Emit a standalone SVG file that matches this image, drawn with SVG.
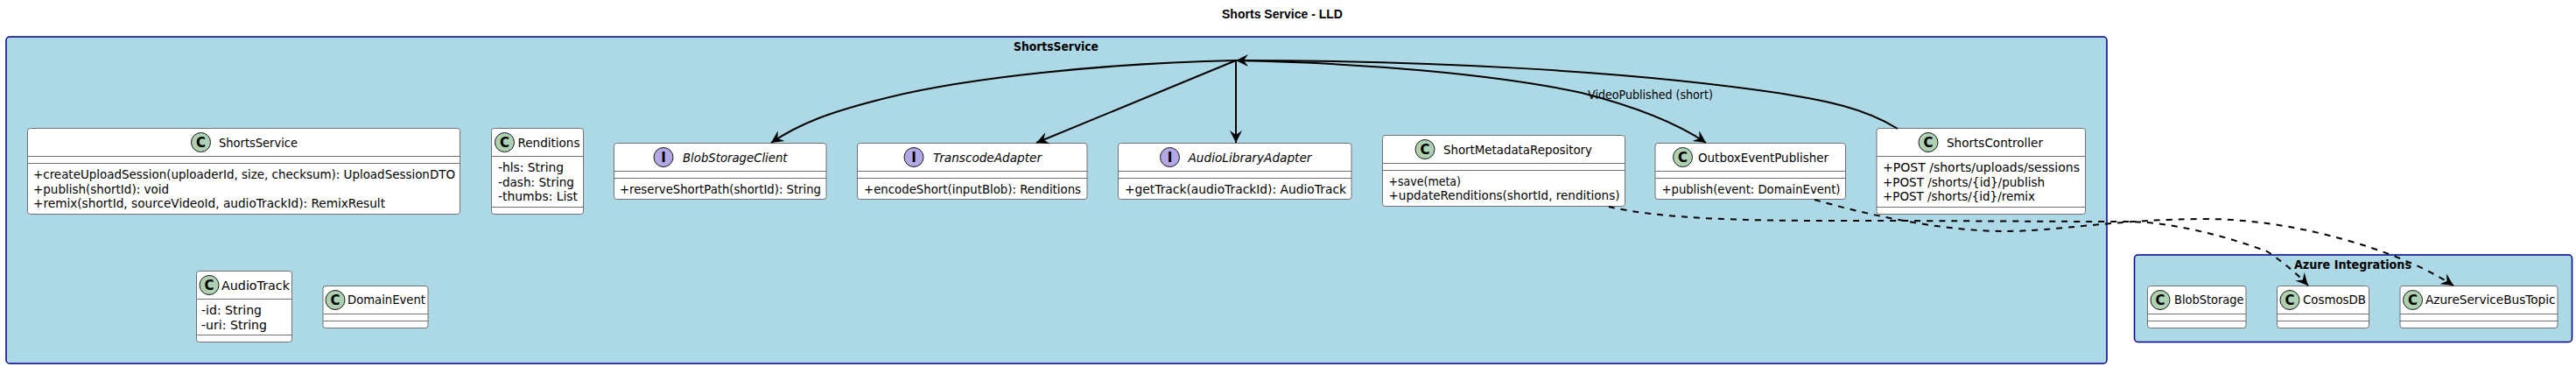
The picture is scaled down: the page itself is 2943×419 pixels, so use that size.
<svg xmlns="http://www.w3.org/2000/svg" width="2943" height="419" viewBox="0 0 2943 419">
<style>
text{font-family:"DejaVu Sans",sans-serif;font-size:14px;fill:#000}
.title{font-family:"Liberation Sans",Arial,sans-serif;font-size:14px;font-weight:bold}
.ct{font-weight:bold}
.it{font-style:italic}
.cluster{fill:#ADD8E6;stroke:#00008B;stroke-width:1.5}
.box{fill:#fff;stroke:#707070;stroke-width:1}
.sep{stroke:#707070;stroke-width:1;fill:none}
.cc{fill:#ADD1B2;stroke:#181818;stroke-width:1}
.ci{fill:#B4A7E5;stroke:#181818;stroke-width:1}
.g{font-weight:bold;font-size:15px;text-anchor:middle}
.link{fill:none;stroke:#000;stroke-width:2;marker-end:url(#arrow)}
.dash{stroke-dasharray:7,7}
</style>
<defs>
<marker id="arrow" markerUnits="userSpaceOnUse" markerWidth="16" markerHeight="16" refX="14" refY="8" orient="auto" overflow="visible">
<path d="M14,8 L0,1 L5,8 L0,15 Z" fill="#000"/>
</marker>
</defs>
<rect width="2943" height="419" fill="#fff"/>
<text class="title" x="1396" y="21" textLength="138" lengthAdjust="spacingAndGlyphs">Shorts Service - LLD</text>
<g id="cluster-shortsservice">
<rect class="cluster" x="7" y="42" width="2400" height="373" rx="4"/>
<text class="ct" x="1158" y="58" textLength="97" lengthAdjust="spacingAndGlyphs">ShortsService</text>
</g>
<g id="cluster-azure">
<rect class="cluster" x="2438.5" y="291" width="500" height="99.5" rx="4"/>
<text class="ct" x="2621" y="307" textLength="134" lengthAdjust="spacingAndGlyphs">Azure Integrations</text>
</g>
<g id="ShortsService">
<rect class="box" x="31.5" y="146.5" width="494" height="98" rx="3"/>
<path class="sep" d="M31.5,178.5H525.5M31.5,186.5H525.5"/>
<circle class="cc" cx="229.5" cy="162.5" r="11"/><text class="g" x="229.5" y="168">C</text>
<text x="250" y="168" textLength="90" lengthAdjust="spacingAndGlyphs">ShortsService</text>
<text x="38" y="204" textLength="482" lengthAdjust="spacingAndGlyphs">+createUploadSession(uploaderId, size, checksum): UploadSessionDTO</text>
<text x="38" y="221" textLength="155" lengthAdjust="spacingAndGlyphs">+publish(shortId): void</text>
<text x="38" y="237" textLength="402" lengthAdjust="spacingAndGlyphs">+remix(shortId, sourceVideoId, audioTrackId): RemixResult</text>
</g>
<g id="Renditions">
<rect class="box" x="561.5" y="146.5" width="105" height="98" rx="3"/>
<path class="sep" d="M561.5,178.5H666.5M561.5,236.5H666.5"/>
<circle class="cc" cx="576.5" cy="162.5" r="11"/><text class="g" x="576.5" y="168">C</text>
<text x="591.5" y="168" textLength="71" lengthAdjust="spacingAndGlyphs">Renditions</text>
<text x="569" y="196" textLength="75" lengthAdjust="spacingAndGlyphs">-hls: String</text>
<text x="569" y="213" textLength="87" lengthAdjust="spacingAndGlyphs">-dash: String</text>
<text x="569" y="229" textLength="91" lengthAdjust="spacingAndGlyphs">-thumbs: List</text>
</g>
<g id="AudioTrack">
<rect class="box" x="224.5" y="309.5" width="109" height="81" rx="3"/>
<path class="sep" d="M224.5,341.5H333.5M224.5,382.5H333.5"/>
<circle class="cc" cx="239" cy="325.5" r="11"/><text class="g" x="239" y="331">C</text>
<text x="253" y="331" textLength="78" lengthAdjust="spacingAndGlyphs">AudioTrack</text>
<text x="230" y="359" textLength="69" lengthAdjust="spacingAndGlyphs">-id: String</text>
<text x="230" y="376" textLength="75" lengthAdjust="spacingAndGlyphs">-uri: String</text>
</g>
<g id="DomainEvent">
<rect class="box" x="369" y="326.5" width="120" height="48" rx="3"/>
<path class="sep" d="M369,358.5H489M369,366.5H489"/>
<circle class="cc" cx="383" cy="342.5" r="11"/><text class="g" x="383" y="348">C</text>
<text x="397" y="347" textLength="89" lengthAdjust="spacingAndGlyphs">DomainEvent</text>
</g>
<g id="BlobStorageClient">
<rect class="box" x="701.5" y="163.5" width="242.5" height="64" rx="3"/>
<path class="sep" d="M701.5,195.5H944M701.5,203.5H944"/>
<circle class="ci" cx="758" cy="179.5" r="11"/><text class="g" x="758" y="185">I</text>
<text class="it" x="780" y="185" textLength="119.5" lengthAdjust="spacingAndGlyphs">BlobStorageClient</text>
<text x="708" y="221" textLength="230" lengthAdjust="spacingAndGlyphs">+reserveShortPath(shortId): String</text>
</g>
<g id="TranscodeAdapter">
<rect class="box" x="979.5" y="163.5" width="262.5" height="64" rx="3"/>
<path class="sep" d="M979.5,195.5H1242M979.5,203.5H1242"/>
<circle class="ci" cx="1044" cy="179.5" r="11"/><text class="g" x="1044" y="185">I</text>
<text class="it" x="1066" y="185" textLength="124" lengthAdjust="spacingAndGlyphs">TranscodeAdapter</text>
<text x="987" y="221" textLength="248" lengthAdjust="spacingAndGlyphs">+encodeShort(inputBlob): Renditions</text>
</g>
<g id="AudioLibraryAdapter">
<rect class="box" x="1277.5" y="163.5" width="266.5" height="64" rx="3"/>
<path class="sep" d="M1277.5,195.5H1544M1277.5,203.5H1544"/>
<circle class="ci" cx="1336.5" cy="179.5" r="11"/><text class="g" x="1336.5" y="185">I</text>
<text class="it" x="1357.5" y="185" textLength="141" lengthAdjust="spacingAndGlyphs">AudioLibraryAdapter</text>
<text x="1285" y="221" textLength="253" lengthAdjust="spacingAndGlyphs">+getTrack(audioTrackId): AudioTrack</text>
</g>
<g id="ShortMetadataRepository">
<rect class="box" x="1579.5" y="154.5" width="277" height="81" rx="3"/>
<path class="sep" d="M1579.5,186.5H1856.5M1579.5,194.5H1856.5"/>
<circle class="cc" cx="1628" cy="170.5" r="11"/><text class="g" x="1628" y="176">C</text>
<text x="1649" y="176" textLength="170" lengthAdjust="spacingAndGlyphs">ShortMetadataRepository</text>
<text x="1586.5" y="212" textLength="82.5" lengthAdjust="spacingAndGlyphs">+save(meta)</text>
<text x="1586.5" y="228" textLength="264" lengthAdjust="spacingAndGlyphs">+updateRenditions(shortId, renditions)</text>
</g>
<g id="OutboxEventPublisher">
<rect class="box" x="1891" y="163.5" width="217.5" height="64" rx="3"/>
<path class="sep" d="M1891,195.5H2108.5M1891,203.5H2108.5"/>
<circle class="cc" cx="1922.5" cy="179.5" r="11"/><text class="g" x="1922.5" y="185">C</text>
<text x="1940" y="185" textLength="149" lengthAdjust="spacingAndGlyphs">OutboxEventPublisher</text>
<text x="1898.5" y="221" textLength="204" lengthAdjust="spacingAndGlyphs">+publish(event: DomainEvent)</text>
</g>
<g id="ShortsController">
<rect class="box" x="2144" y="146.5" width="238.5" height="98" rx="3"/>
<path class="sep" d="M2144,178.5H2382.5M2144,236.5H2382.5"/>
<circle class="cc" cx="2203" cy="162.5" r="11"/><text class="g" x="2203" y="168">C</text>
<text x="2224" y="168" textLength="110" lengthAdjust="spacingAndGlyphs">ShortsController</text>
<text x="2151" y="196" textLength="225" lengthAdjust="spacingAndGlyphs">+POST /shorts/uploads/sessions</text>
<text x="2151" y="213" textLength="185" lengthAdjust="spacingAndGlyphs">+POST /shorts/{id}/publish</text>
<text x="2151" y="229" textLength="174" lengthAdjust="spacingAndGlyphs">+POST /shorts/{id}/remix</text>
</g>
<g id="BlobStorage">
<rect class="box" x="2453.5" y="326.5" width="112.5" height="48" rx="3"/>
<path class="sep" d="M2453.5,358.5H2566M2453.5,366.5H2566"/>
<circle class="cc" cx="2468" cy="342.5" r="11"/><text class="g" x="2468" y="348">C</text>
<text x="2484" y="347" textLength="79.5" lengthAdjust="spacingAndGlyphs">BlobStorage</text>
</g>
<g id="CosmosDB">
<rect class="box" x="2601.5" y="326.5" width="105" height="48" rx="3"/>
<path class="sep" d="M2601.5,358.5H2706.5M2601.5,366.5H2706.5"/>
<circle class="cc" cx="2616" cy="342.5" r="11"/><text class="g" x="2616" y="348">C</text>
<text x="2631" y="347" textLength="72" lengthAdjust="spacingAndGlyphs">CosmosDB</text>
</g>
<g id="AzureServiceBusTopic">
<rect class="box" x="2742" y="326.5" width="180" height="48" rx="3"/>
<path class="sep" d="M2742,358.5H2922M2742,366.5H2922"/>
<circle class="cc" cx="2756.5" cy="342.5" r="11"/><text class="g" x="2756.5" y="348">C</text>
<text x="2771" y="347" textLength="148.5" lengthAdjust="spacingAndGlyphs">AzureServiceBusTopic</text>
</g>
<g id="connectors">
<path class="link" d="M2168,147 C2130,123 2085,115 2037,107 C1860,80 1620,69 1412,69"/>
<path class="link" d="M1412,69 C1270,72 1100,88 1000,115 C950,128 915,140 881,163"/>
<path class="link" d="M1412,69 L1184,163"/>
<path class="link" d="M1412,69 L1412,163"/>
<path class="link" d="M1412,69 C1560,72 1710,85 1807,106 C1870,122 1915,140 1949,163"/>
<path class="link dash" d="M1838,236 C1900,250 1990,252 2100,252 C2240,252 2340,253 2430,253 C2480,253 2545,270 2590,287 C2605,297 2622,310 2637,326"/>
<path class="link dash" d="M2073,228 C2150,250 2230,264 2290,264 C2350,264 2420,250 2520,250 C2620,250 2740,285 2803,326"/>
<text x="1814" y="113" textLength="143" lengthAdjust="spacingAndGlyphs">VideoPublished (short)</text>
</g>
</svg>
